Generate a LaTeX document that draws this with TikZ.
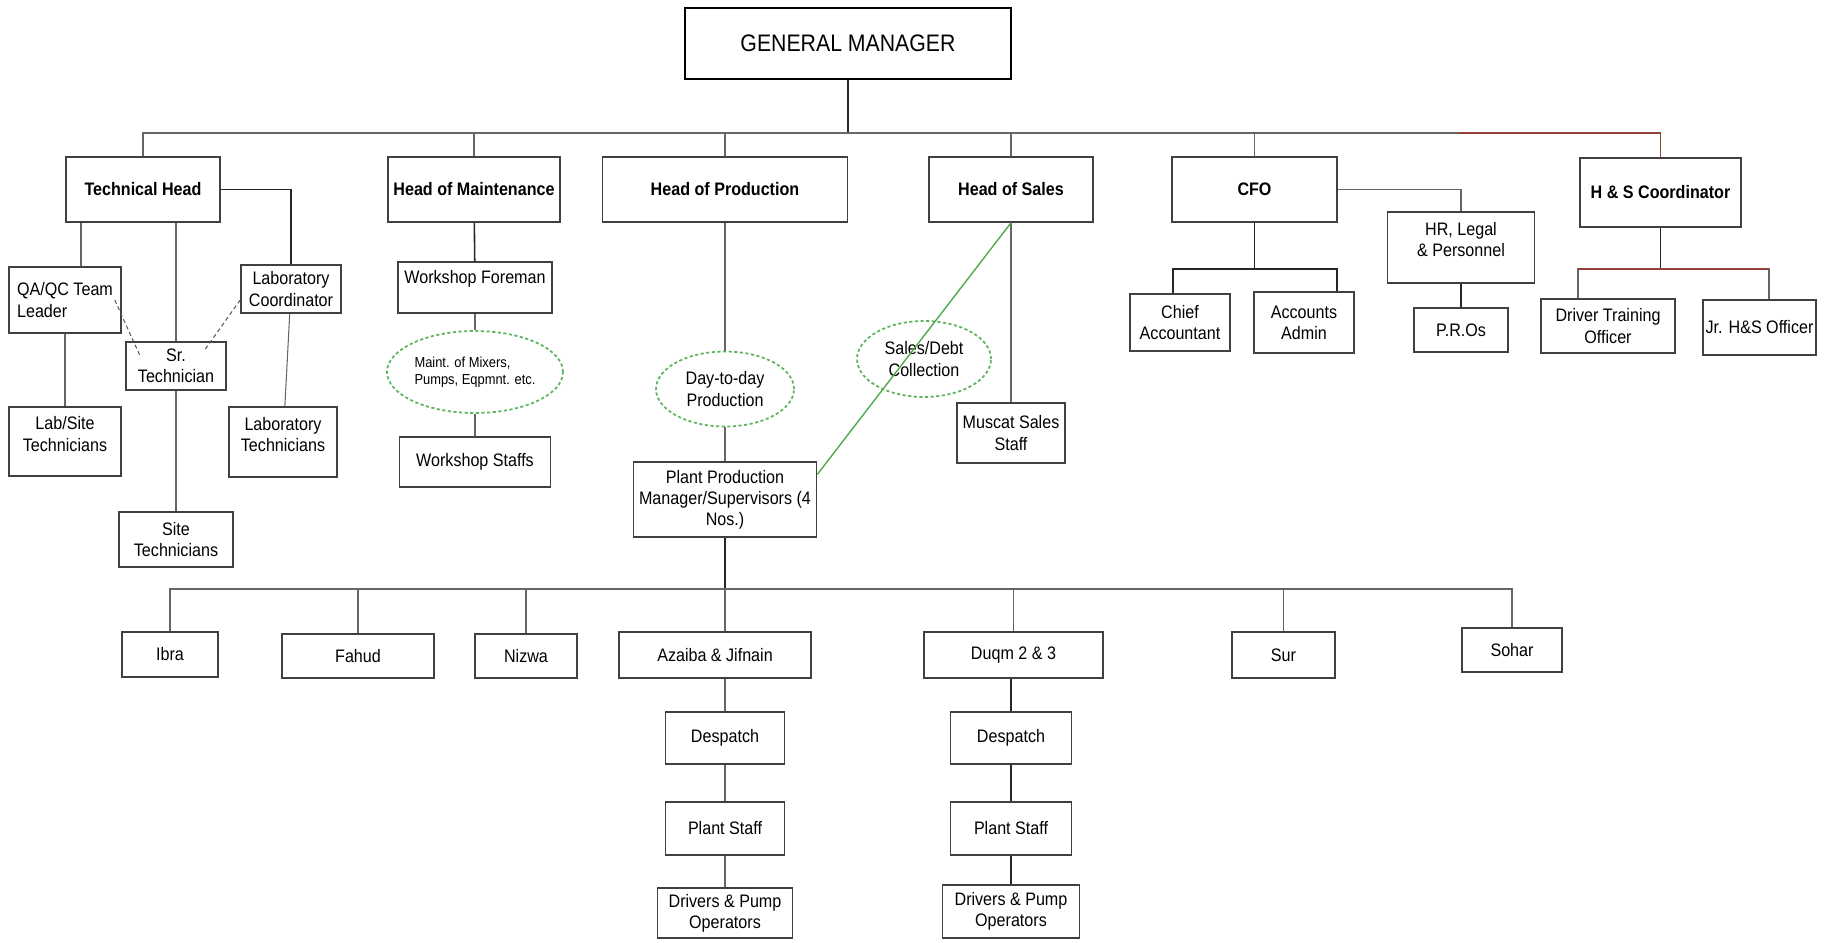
\documentclass[tikz,border=0pt]{standalone}
\usepackage{fontspec}
\setmainfont{Liberation Sans}[FakeStretch=0.89]
\usepackage{tikz}
\usetikzlibrary{shapes.geometric}

\definecolor{dotgreen}{RGB}{95,180,95}
\definecolor{salesgreen}{RGB}{80,170,80}
\definecolor{hsred}{RGB}{150,65,60}

\begin{document}
\begin{tikzpicture}[x=0.02cm,y=-0.02cm,
	font=\fontsize{10.3}{12}\selectfont, align=center,
	box/.style={rectangle,draw=black!75,line width=0.9pt,inner sep=2pt},
	head/.style={box,font=\fontsize{10.3}{12}\selectfont\bfseries},
	duty/.style={ellipse,draw=dotgreen,line width=1pt,dash pattern=on 1.8pt off 1.4pt,inner sep=0pt},
	sz/.style 2 args={minimum width=#1cm,minimum height=#2cm},
	line/.style={draw=black!60,line width=0.6pt},
	dark/.style={draw=black!85,line width=0.9pt},
	dashline/.style={draw=black!65,line width=0.6pt,dash pattern=on 2.3pt off 1.7pt},
	redline/.style={draw=hsred,line width=0.6pt},
	greenline/.style={draw=salesgreen,line width=0.8pt}]
	
	\useasboundingbox (0,0) rectangle (1829,943);
	
	% first row
	\node[box,draw=black,line width=1.6pt,sz={6.52}{1.42},font=\fontsize{13.6}{16}\selectfont] (gm) at (848,43.5) {GENERAL MANAGER};
	\node[head,sz={3.08}{1.3}] (tech) at (143,189.5) {Technical Head};
	\node[head,sz={3.44}{1.3}] (maint) at (474,189.5) {Head of Maintenance};
	\node[head,sz={4.9}{1.3}] (prod) at (725,189.5) {Head of Production};
	\node[head,sz={3.28}{1.3}] (sales) at (1011,189.5) {Head of Sales};
	\node[head,sz={3.3}{1.3}] (cfo) at (1254.5,189.5) {CFO};
	\node[head,sz={3.22}{1.38}] (hs) at (1660.5,192.5) {H \& S Coordinator};
	
	% technical
	\node[box,sz={2.24}{1.32},align=left] (qa) at (65,300) {QA/QC Team\\Leader};
	\node[box,sz={2}{0.96}] (lc) at (291,289) {Laboratory\\Coordinator};
	\node[box,sz={2}{0.96}] (srt) at (176,366) {Sr.\\Technician};
	\node[box,sz={2.24}{0},text height=23.1pt,text depth=12.2pt] (lst) at (65,441.5) {Lab/Site\\Technicians};
	\node[box,sz={2.16}{0},text height=23.1pt,text depth=12.7pt] (ltech) at (283,442) {Laboratory\\Technicians};
	\node[box,sz={2.28}{1.1}] (stech) at (176,539.5) {Site\\Technicians};
	
	% maintenance
	\node[box,sz={3.08}{0},text height=10.5pt,text depth=14.5pt] (wf) at (475,287.5) {Workshop Foreman};
	\node[duty,sz={3.52}{1.64},align=left,font=\fontsize{8.25}{9.5}\selectfont] (mmix) at (475,372) {Maint. of Mixers,\\Pumps, Eqpmnt. etc.};
	\node[box,sz={3.02}{1}] (wstaff) at (475,462) {Workshop Staffs};
	
	% production and sales
	\node[duty,sz={2.76}{1.5}] (d2d) at (725,389) {Day-to-day\\Production};
	\node[box,sz={3.66}{1.5}] (ppm) at (725,499.5) {Plant Production\\Manager/Supervisors (4\\Nos.)};
	\node[duty,sz={2.68}{1.52}] (sdc) at (924,359) {Sales/Debt\\Collection};
	\node[box,sz={2.16}{1.2}] (muscat) at (1011,433) {Muscat Sales\\Staff};
	
	% finance
	\node[box,sz={2.94}{0},text height=23.1pt,text depth=13.3pt] (hr) at (1461,247.5) {HR, Legal\\\& Personnel};
	\node[box,sz={1.88}{0.88}] (pro) at (1461,330) {P.R.Os};
	\node[box,sz={2}{1.14}] (chief) at (1180,322.5) {Chief\\Accountant};
	\node[box,sz={2}{1.22}] (accts) at (1304,322.5) {Accounts\\Admin};
	
	% health and safety
	\node[box,sz={2.68}{1.08}] (dto) at (1608,326) {Driver Training\\Officer};
	\node[box,sz={2.26}{1.1},inner xsep=1pt] (jhs) at (1759.5,327.5) {Jr. H\&S Officer};
	
	% plants
	\node[box,sz={1.92}{0.9}] (ibra) at (170,654.5) {Ibra};
	\node[box,sz={3.04}{0.88}] (fahud) at (358,656) {Fahud};
	\node[box,sz={2.04}{0.88}] (nizwa) at (526,656) {Nizwa};
	\node[box,sz={3.84}{0.92}] (azaiba) at (715,655) {Azaiba \& Jifnain};
	\node[box,sz={2.38}{1.04}] (desp1) at (725,738) {Despatch};
	\node[box,sz={2.38}{1.06}] (ps1) at (725,828.5) {Plant Staff};
	\node[box,sz={2.7}{1}] (drv1) at (725,913) {Drivers \& Pump\\Operators};
	\node[box,sz={3.58}{0.92}] (duqm) at (1013.5,655) {Duqm 2 \& 3};
	\node[box,sz={2.42}{1.04}] (desp2) at (1011,738) {Despatch};
	\node[box,sz={2.42}{1.06}] (ps2) at (1011,828.5) {Plant Staff};
	\node[box,sz={2.74}{1.06}] (drv2) at (1011,911.5) {Drivers \& Pump\\Operators};
	\node[box,sz={2.06}{0.92}] (sur) at (1283.5,655) {Sur};
	\node[box,sz={2}{0.88}] (sohar) at (1512,650) {Sohar};
	
	% bus under the general manager
	\coordinate (b1) at (848,133);
	\coordinate (rj) at (1459,133);
	\draw[dark] (gm) -- (b1);
	\draw[line] (tech.north) |- (rj);
	\draw[redline] (rj) -| (hs.north);
	\foreach \n in {maint,prod,sales,cfo}
		\draw[line] (\n.north) -- (\n.north |- b1);
	
	% technical head
	\coordinate (qd) at ([xshift=0.32cm]qa.north);
	\draw[line] (qd) -- (qd |- tech.south);
	\draw[line] (srt.north |- tech.south) -- (srt.north);
	\draw[dark] (tech.east) -| (lc.north);
	\path[line] (qa) edge (lst) (srt) edge (stech) (lc) edge (ltech);
	\draw[dashline] ([xshift=-0.14cm]qa.east) -- ([xshift=0.3cm,yshift=-0.3cm]srt.north west);
	\draw[dashline] ([yshift=-0.22cm]lc.west) -- ([xshift=-0.46cm,yshift=-0.2cm]srt.north east);
	
	% maintenance, production, sales
	\path[dark] (maint) edge (wf);
	\path[line] (wf) edge (mmix) (mmix) edge (wstaff);
	\path[line] (prod) edge (d2d) (d2d) edge (ppm);
	\path[line] (sales) edge (muscat);
	\draw[greenline] (sales.south) -- ([yshift=0.5cm]ppm.east);
	
	% finance
	\coordinate (cb) at (1254.5,269);
	\coordinate (cd1) at ([xshift=-0.14cm]chief.north);
	\coordinate (cd2) at ([xshift=0.66cm]accts.north);
	\draw[line] (cfo.east) -| (hr.north);
	\path[dark] (hr) edge (pro);
	\draw[dark] (cfo) -- (cb);
	\draw[dark] (cd1) |- (cb) -| (cd2);
	
	% health and safety
	\coordinate (hb) at (1660.5,269);
	\coordinate (hd1) at ([xshift=-0.6cm]dto.north);
	\coordinate (hd2) at ([xshift=0.19cm]jhs.north);
	\draw[dark] (hs) -- (hb);
	\draw[line] (hd1) |- (hb) -| (hd2);
	\draw[redline] (hd1 |- hb) -- (hd2 |- hb);
	
	% plants
	\coordinate (b2) at (725,589);
	\draw[dark] (ppm) -- (b2);
	\draw[line] (ibra.north) |- (b2) -| (sohar.north);
	\foreach \n in {fahud,nizwa,duqm,sur}
		\draw[line] (\n.north) -- (\n.north |- b2);
	\draw[line] (b2) -- (b2 |- azaiba.north);
	\path[line] (azaiba.south -| desp1) edge (desp1) (desp1) edge (ps1) (ps1) edge (drv1);
	\path[dark] (duqm.south -| desp2) edge (desp2) (desp2) edge (ps2) (ps2) edge (drv2);
\end{tikzpicture}
\end{document}
